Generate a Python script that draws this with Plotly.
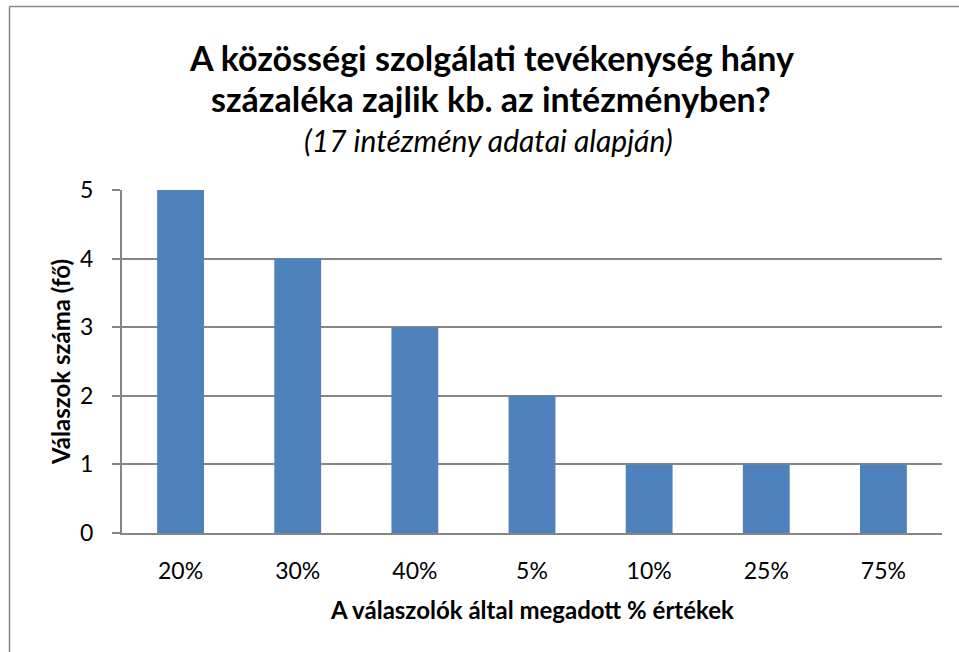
import plotly.graph_objects as go

categories = ["20%", "30%", "40%", "5%", "10%", "25%", "75%"]
values = [5, 4, 3, 2, 1, 1, 1]
y_ticks = [0, 1, 2, 3, 4, 5]

title_l1 = "A közösségi szolgálati tevékenység hány"
title_l2 = "százaléka zajlik kb. az intézményben?"
subtitle = "(17 intézmény adatai alapján)"
x_title = "A válaszolók által megadott % értékek"
y_title = "Válaszok száma (fő)"

FONT = "Lato, 'Open Sans', sans-serif"
GRAY = "#868686"

fig = go.Figure(go.Bar(x=categories, y=values, marker=dict(color="#4F81BD", line=dict(width=0)), width=0.4))

L, R, T, B = 122, 17, 190, 119
W, H = 959, 652
pw, ph = W - L - R, H - T - B

def px2x(px):
    return (px - L) / pw

def py2y(py):
    return (H - B - py) / ph

fig.update_layout(
    width=W, height=H,
    margin=dict(l=L, r=R, t=T, b=B),
    paper_bgcolor="white", plot_bgcolor="white",
    font=dict(family=FONT, color="black", size=23),
    showlegend=False,
    xaxis=dict(
        type="category", showgrid=False, showline=True, linecolor=GRAY, linewidth=2,
        ticks="", tickfont=dict(size=23), ticklabelstandoff=16,
    ),
    yaxis=dict(
        range=[0, 5], tickvals=y_ticks, showgrid=True, gridcolor=GRAY, gridwidth=1.5,
        showline=True, linecolor=GRAY, linewidth=2, ticks="outside", ticklen=8,
        tickcolor=GRAY, tickwidth=1.5, tickfont=dict(size=23), ticklabelstandoff=14,
        zeroline=False,
    ),
    shapes=[
        dict(type="line", xref="paper", yref="paper",
             x0=px2x(9.5), x1=px2x(9.5), y0=py2y(H + 50), y1=py2y(6.5),
             line=dict(color=GRAY, width=1.5), layer="below"),
        dict(type="line", xref="paper", yref="paper",
             x0=px2x(9.5), x1=px2x(W + 50), y0=py2y(6.5), y1=py2y(6.5),
             line=dict(color=GRAY, width=1.5), layer="below"),
    ],
    annotations=[
        dict(text="<b>" + title_l1 + "</b>", x=px2x(491), y=py2y(57), xref="paper", yref="paper",
             showarrow=False, font=dict(size=34, family=FONT), xanchor="center", yanchor="middle"),
        dict(text="<b>" + title_l2 + "</b>", x=px2x(491), y=py2y(99), xref="paper", yref="paper",
             showarrow=False, font=dict(size=34, family=FONT), xanchor="center", yanchor="middle"),
        dict(text="<i>" + subtitle + "</i>", x=px2x(488), y=py2y(140), xref="paper", yref="paper",
             showarrow=False, font=dict(size=30, family=FONT), xanchor="center", yanchor="middle"),
        dict(text="<b>" + x_title + "</b>", x=px2x(532), y=py2y(609), xref="paper", yref="paper",
             showarrow=False, font=dict(size=24, family=FONT), xanchor="center", yanchor="middle"),
        dict(text="<b>" + y_title + "</b>", x=px2x(60), y=py2y(362), xref="paper", yref="paper",
             showarrow=False, font=dict(size=24, family=FONT), textangle=-90,
             xanchor="center", yanchor="middle"),
    ],
)

fig.write_html("out.html", config={"displayModeBar": False},
               post_script="document.body.style.margin='0';document.body.style.overflow='hidden';")
